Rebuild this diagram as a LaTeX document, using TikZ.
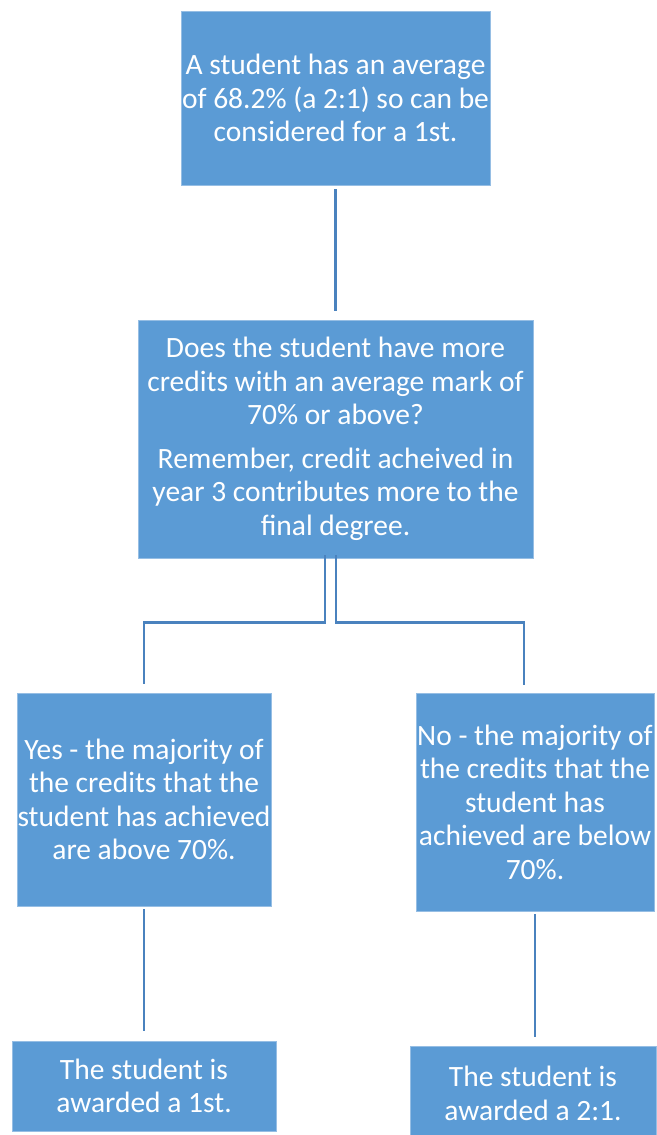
\documentclass[tikz,border=0pt]{standalone}
\usepackage{fontspec}
\setmainfont{Carlito}
\usetikzlibrary{calc}
\definecolor{boxblue}{RGB}{91,155,213}
\definecolor{edgeblue}{RGB}{150,190,228}
\definecolor{linkblue}{RGB}{74,130,190}
\tikzset{
  card/.style={rectangle, fill=boxblue, draw=edgeblue, line width=0.8pt,
    text=white, align=center, inner sep=0pt,
    font=\fontsize{29.5}{33.5}\selectfont},
  conn/.style={draw=linkblue, line width=2.5pt}
}
\begin{document}
\begin{tikzpicture}[x=1pt,y=-1pt]
\useasboundingbox (0,0) rectangle (656,1135);

% flow chart boxes
\node[card, minimum width=309pt, minimum height=174pt] (b1) at (335.5,98)
  {A student has an average\\of 68.2\% (a 2:1) so can be\\considered for a 1st.};
\node[card, minimum width=395pt, minimum height=238pt] (b2) at (335.5,439)
  {Does the student have more\\credits with an average mark of\\70\% or above?\\[10pt]
   Remember, credit acheived in\\year 3 contributes more to the\\final degree.};
\node[card, minimum width=254pt, minimum height=213pt] (b3) at (144,799.5)
  {Yes - the majority of\\the credits that the\\student has achieved\\are above 70\%.};
\node[card, minimum width=238pt, minimum height=218pt] (b4) at (535,802)
  {No - the majority of\\the credits that the\\student has\\achieved are below\\70\%.};
\node[card, minimum width=264pt, minimum height=90pt] (b5) at (144,1086)
  {The student is\\awarded a 1st.};
\node[card, minimum width=246pt, minimum height=89pt] (b6) at (533,1090.5)
  {\rule{0pt}{26pt}The student is\\awarded a 2:1.};

% connectors
\draw[conn, shorten <=4pt, shorten >=9pt] (b1.south) -- (b2.north);
\draw[conn] ([xshift=-10.5pt,yshift=3pt]b2.south)
  |- ($(b3.north |- b2.south)+(0,64)$) -- ($(b3.north)+(0,-9)$);
\draw[conn] ([xshift=0.5pt,yshift=3pt]b2.south)
  |- ($(b4.north |- b2.south)+(-11,64)$) -- ($(b4.north)+(-11,-8)$);
\draw[conn, shorten <=3pt, shorten >=10pt] (b3.south) -- (b5.north);
\draw[conn, shorten <=3pt, shorten >=9pt] (b4.south) -- (b4.south |- b6.north);
\end{tikzpicture}
\end{document}
